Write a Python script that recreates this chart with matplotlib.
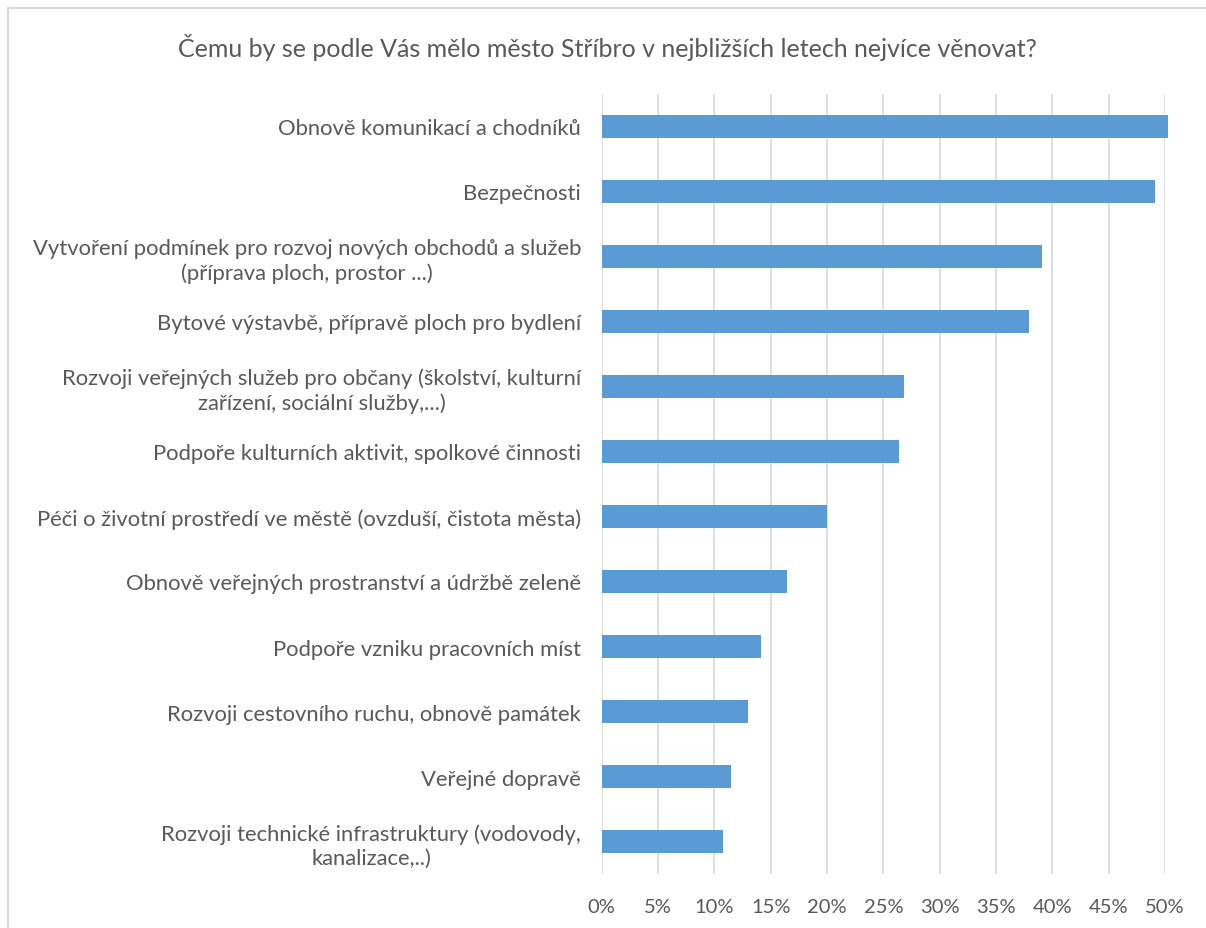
import matplotlib.pyplot as plt
from matplotlib.lines import Line2D
from matplotlib.ticker import FuncFormatter, MultipleLocator

plt.rcParams['font.family'] = ['Lato', 'DejaVu Sans']

# categories from top to bottom
categories = [
    'Obnově komunikací a chodníků',
    'Bezpečnosti',
    'Vytvoření podmínek pro rozvoj nových obchodů a služeb\n(příprava ploch, prostor ...)',
    'Bytové výstavbě, přípravě ploch pro bydlení',
    'Rozvoji veřejných služeb pro občany (školství, kulturní\nzařízení, sociální služby,...)',
    'Podpoře kulturních aktivit, spolkové činnosti',
    'Péči o životní prostředí ve městě (ovzduší, čistota města)',
    'Obnově veřejných prostranství a údržbě zeleně',
    'Podpoře vzniku pracovních míst',
    'Rozvoji cestovního ruchu, obnově památek',
    'Veřejné dopravě',
    'Rozvoji technické infrastruktury (vodovody,\nkanalizace,..)',
]
values = [0.503, 0.491, 0.391, 0.379, 0.268, 0.264, 0.200, 0.164, 0.141, 0.130, 0.115, 0.108]

title = 'Čemu by se podle Vás mělo město Stříbro v nejbližších letech nejvíce věnovat?'

txt = '#595959'

fig = plt.figure(figsize=(12.06, 9.29), dpi=100)
ax = fig.add_axes([0.499, 0.058, 0.467, 0.84])

pos = list(range(len(categories)))
ax.barh(pos, values, height=0.35, color='#5B9BD5', zorder=3, clip_on=False)

ax.set_xlim(0, 0.5)
ax.set_ylim(len(categories) - 0.5, -0.5)
ax.xaxis.set_major_locator(MultipleLocator(0.05))
ax.xaxis.set_major_formatter(FuncFormatter(lambda v, p: '%d%%' % round(v * 100)))
ax.grid(axis='x', color='#D9D9D9', linewidth=1.2, zorder=0)
ax.set_axisbelow(True)
for s in ax.spines.values():
    s.set_visible(False)

ax.set_yticks(pos)
ax.set_yticklabels(categories)
for lab in ax.get_yticklabels():
    lab.set_multialignment('center')
    lab.set_linespacing(1.25)
ax.tick_params(axis='y', length=0, pad=15, labelsize=15.8, labelcolor=txt)
ax.tick_params(axis='x', length=0, pad=17, labelsize=14.5, labelcolor=txt)

fig.text(0.504, 0.949, title, ha='center', va='center', fontsize=18, color=txt)

# chart border (only top and left edges are visible)
fig.lines.append(Line2D([8 / 1206, 1], [1 - 9 / 929, 1 - 9 / 929], transform=fig.transFigure,
                        color='#D9D9D9', linewidth=1.5))
fig.lines.append(Line2D([8 / 1206, 8 / 1206], [0, 1 - 9 / 929], transform=fig.transFigure,
                        color='#D9D9D9', linewidth=1.5))

fig.savefig('out.png', dpi=100)
